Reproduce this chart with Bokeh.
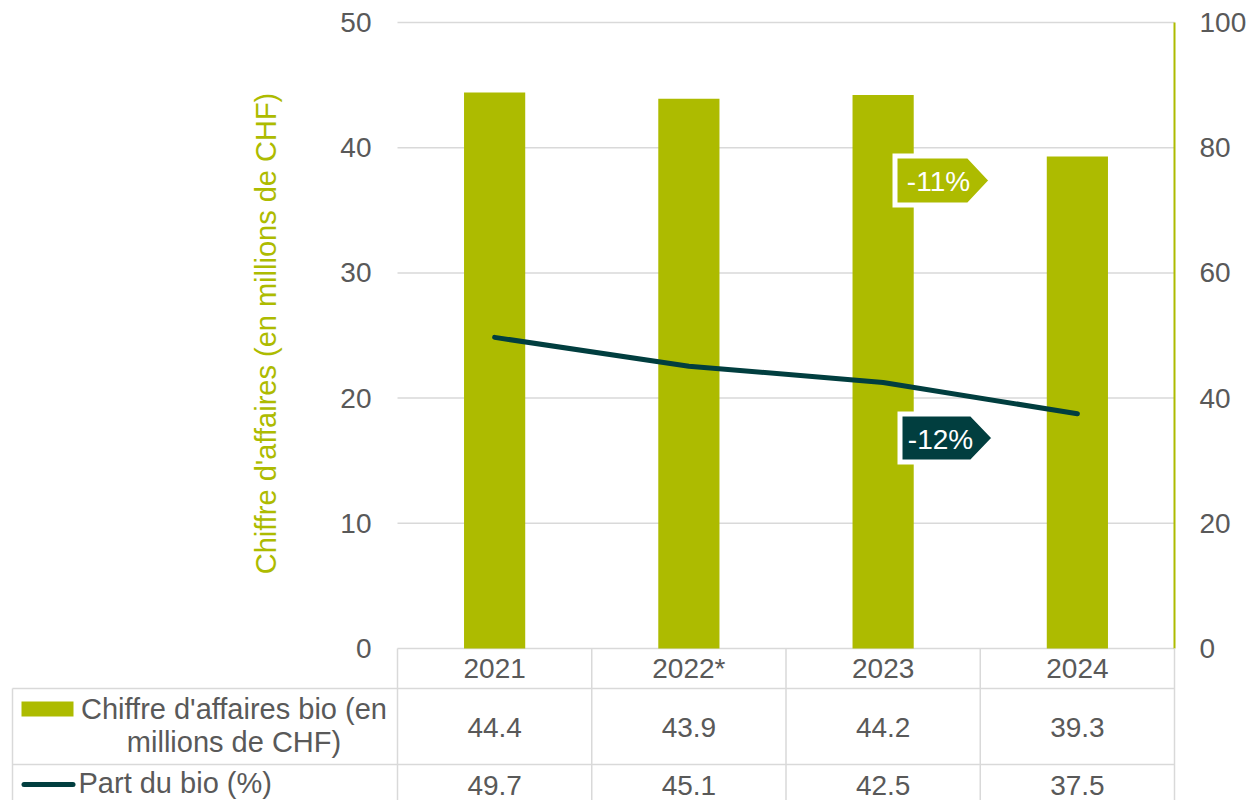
import math
from bokeh.plotting import figure
from bokeh.models import Range1d
from bokeh.embed import file_html
from bokeh.resources import INLINE
from bokeh.core.properties import value

# ---------------- data ----------------
years = ["2021", "2022*", "2023", "2024"]
turnover = [44.4, 43.9, 44.2, 39.3]          # millions CHF (left axis)
share = [49.7, 45.1, 42.5, 37.5]             # % (right axis)
left_ticks = [0, 10, 20, 30, 40, 50]
right_ticks = [0, 20, 40, 60, 80, 100]
left_axis_title = "Chiffre d'affaires (en millions de CHF)"
row_label_1 = ["Chiffre d'affaires bio (en", "millions de CHF)"]
row_label_2 = "Part du bio (%)"
callout_texts = ["-11%", "-12%"]

# ---------------- styles / layout ----------------
GREEN = "#ADBB00"
DARK = "#013E3F"
TXT = "#595959"
GRID = "#D9D9D9"
FONT = value("Liberation Sans")
FS_NUM = "28px"
FS_TXT = "29px"
W, H = 1250, 800

# plot-area geometry (pixels) -> used only to set the scales
PLOT_L, PLOT_R, PLOT_T, PLOT_B = 397, 1174, 22, 648
n = len(years)
PX = (PLOT_R - PLOT_L) / n                       # px per category
PY = (PLOT_B - PLOT_T) / (left_ticks[-1] - left_ticks[0])   # px per left-axis unit
RATIO = (right_ticks[-1] - right_ticks[0]) / (left_ticks[-1] - left_ticks[0])


def ux(px):
    return -0.5 + (px - PLOT_L) / PX


def uy(py):
    return (PLOT_B - py) / PY


xs = list(range(n))
bounds = [i - 0.5 for i in range(n + 1)]

p = figure(width=W, height=H,
           x_range=Range1d(ux(0), ux(W)), y_range=Range1d(uy(H), uy(0)),
           output_backend="svg", toolbar_location=None,
           x_axis_location=None, y_axis_location=None,
           min_border_left=0, min_border_right=0, min_border_top=0, min_border_bottom=0)
p.outline_line_color = None
p.xgrid.visible = False
p.ygrid.visible = False
p.extra_y_ranges = {"share": Range1d(uy(H) * RATIO, uy(0) * RATIO)}

# ---- gridlines (left-axis ticks) ----
p.segment(x0=[bounds[0]] * len(left_ticks), x1=[bounds[-1]] * len(left_ticks),
          y0=left_ticks, y1=left_ticks, line_color=GRID, line_width=1.5)

# ---- left axis labels + title ----
p.text(x=[ux(371)] * len(left_ticks), y=left_ticks, text=[str(v) for v in left_ticks],
       text_font=FONT, text_font_size=FS_NUM, text_color=TXT,
       text_align="right", text_baseline="middle")
p.text(x=[ux(265)], y=[uy(333)], text=[left_axis_title], angle=math.pi / 2,
       text_font=FONT, text_font_size=FS_TXT, text_color=GREEN,
       text_align="center", text_baseline="middle")

# ---- right axis: line + labels ----
p.segment(x0=[bounds[-1]], x1=[bounds[-1]], y0=[right_ticks[0]], y1=[right_ticks[-1]],
          y_range_name="share", line_color=GREEN, line_width=2)
p.text(x=[ux(1199)] * len(right_ticks), y=right_ticks, y_range_name="share",
       text=[str(v) for v in right_ticks], text_font=FONT, text_font_size=FS_NUM,
       text_color=TXT, text_align="left", text_baseline="middle")

# ---- bars and line ----
p.vbar(x=xs, top=turnover, width=0.315, color=GREEN, line_color=None)
p.line(x=xs, y=share, y_range_name="share", line_width=5, line_color=DARK,
       line_cap="round", line_join="round")

# ---- callouts (annotation positions in data units) ----
c1 = dict(l=ux(894.5), r=ux(968), t=ux(991), top=uy(155.5), bot=uy(204.5), tx=ux(938), ty=uy(181))
c2 = dict(l=ux(899.5), r=ux(971), t=ux(994), top=uy(413.5), bot=uy(461.5), tx=ux(940), ty=uy(439))
for c, col, txt in [(c1, GREEN, callout_texts[0]), (c2, DARK, callout_texts[1])]:
    mid = (c["top"] + c["bot"]) / 2
    p.patch(x=[c["l"], c["r"], c["t"], c["r"], c["l"]],
            y=[c["top"], c["top"], mid, c["bot"], c["bot"]],
            fill_color=col, line_color="white", line_width=5, line_join="miter")
    p.text(x=[c["tx"]], y=[c["ty"]], text=[txt], text_font=FONT, text_font_size=FS_NUM,
           text_color="white", text_align="center", text_baseline="middle")

# ---------------- data table ----------------
TAB_L = ux(12)
ROW1_T, ROW2_T, TAB_BOT = uy(688), uy(764), uy(H + 5)
# horizontal rules
p.segment(x0=[TAB_L, TAB_L], x1=[bounds[-1]] * 2, y0=[ROW1_T, ROW2_T], y1=[ROW1_T, ROW2_T],
          line_color=GRID, line_width=1.5)
# vertical rules
p.segment(x0=[TAB_L] + bounds, x1=[TAB_L] + bounds,
          y0=[ROW1_T] + [0] * len(bounds), y1=[TAB_BOT] * (len(bounds) + 1),
          line_color=GRID, line_width=1.5)

# header row (category labels)
p.text(x=xs, y=[uy(667.5)] * n, text=years, text_font=FONT, text_font_size=FS_NUM,
       text_color=TXT, text_align="center", text_baseline="middle")
# value rows
p.text(x=xs, y=[uy(727)] * n, text=[f"{v:.1f}" for v in turnover], text_font=FONT,
       text_font_size=FS_NUM, text_color=TXT, text_align="center", text_baseline="middle")
p.text(x=xs, y=[uy(785)] * n, text=[f"{v:.1f}" for v in share], text_font=FONT,
       text_font_size=FS_NUM, text_color=TXT, text_align="center", text_baseline="middle")

# row labels with legend keys
p.text(x=[ux(233.5)] * 2, y=[uy(708), uy(741)], text=row_label_1, text_font=FONT,
       text_font_size=FS_TXT, text_color=TXT, text_align="center", text_baseline="middle")
p.text(x=[ux(78)], y=[uy(782)], text=[row_label_2], text_font=FONT, text_font_size=FS_TXT,
       text_color=TXT, text_align="left", text_baseline="middle")
p.quad(left=[ux(21)], right=[ux(73)], top=[uy(701)], bottom=[uy(716)],
       fill_color=GREEN, line_color=None)
p.segment(x0=[ux(23.5)], x1=[ux(72.5)], y0=[uy(784)], y1=[uy(784)],
          line_color=DARK, line_width=5, line_cap="round")

open("out.html", "w").write(file_html(p, INLINE))
